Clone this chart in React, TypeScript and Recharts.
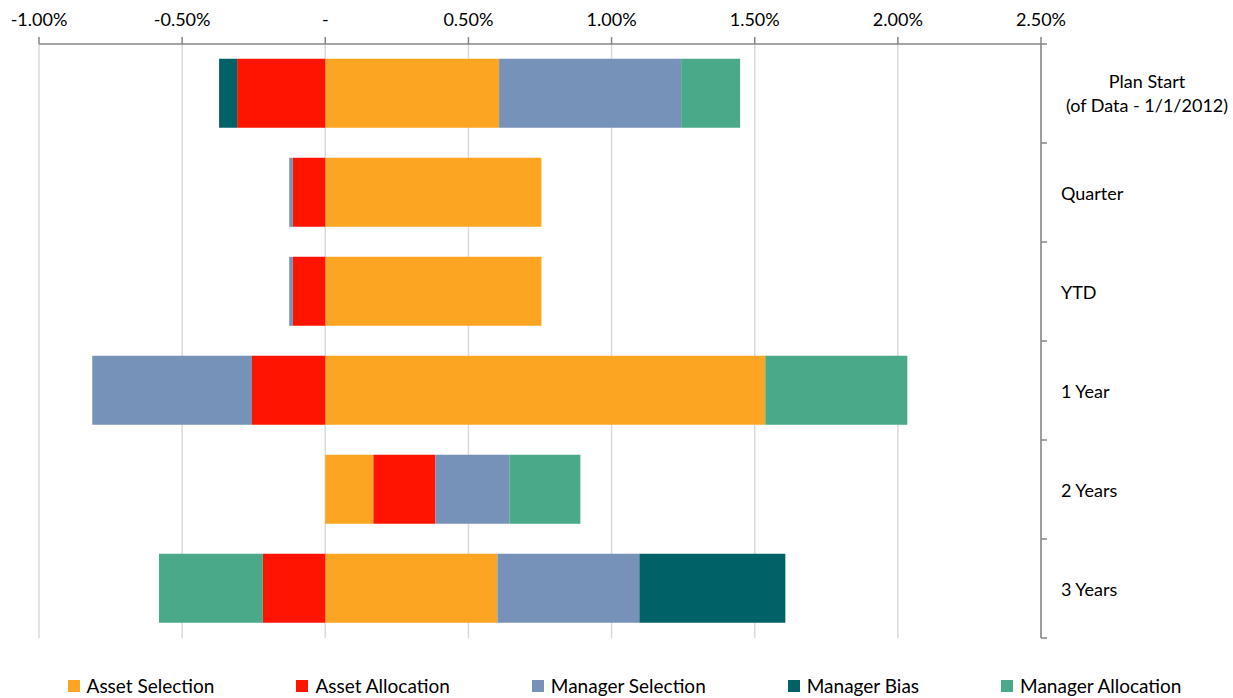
import React from "react";
import { BarChart, Bar, XAxis, YAxis, CartesianGrid } from "recharts";

const periods = ["Plan Start\n(of Data - 1/1/2012)", "Quarter", "YTD", "1 Year", "2 Years", "3 Years"];
const assetSelection = [0.607, 0.755, 0.755, 1.537, 0.168, 0.601];
const assetAllocation = [-0.308, -0.113, -0.113, -0.256, 0.217, -0.218];
const managerSelection = [0.636, -0.013, -0.013, -0.558, 0.258, 0.496];
const managerBias = [-0.063, 0, 0, 0, 0, 0.51];
const managerAllocation = [0.206, 0, 0, 0.496, 0.248, -0.363];
const xTicks = [-1, -0.5, 0, 0.5, 1, 1.5, 2, 2.5];

const series = [
  { key: "assetSelection", name: "Asset Selection", color: "#FCA522" },
  { key: "assetAllocation", name: "Asset Allocation", color: "#FF1400" },
  { key: "managerSelection", name: "Manager Selection", color: "#7792B9" },
  { key: "managerBias", name: "Manager Bias", color: "#006266" },
  { key: "managerAllocation", name: "Manager Allocation", color: "#49A989" },
];

const data = periods.map((p, i) => ({
  name: p,
  assetSelection: assetSelection[i],
  assetAllocation: assetAllocation[i],
  managerSelection: managerSelection[i],
  managerBias: managerBias[i],
  managerAllocation: managerAllocation[i],
}));

const FONT = "Lato, 'Liberation Sans', sans-serif";
const BAND = (638 - 44) / periods.length;

// category label on the right, with Excel-style ticks on the band boundaries
const CategoryTick = (props: any) => {
  const { y, payload, index } = props;
  const lines = String(payload.value).split("\n");
  const isLast = index === periods.length - 1;
  return (
    <g>
      <line x1={1041} x2={1047} y1={y - BAND / 2} y2={y - BAND / 2} stroke="#868686" strokeWidth={1.5} />
      {isLast && <line x1={1041} x2={1047} y1={y + BAND / 2} y2={y + BAND / 2} stroke="#868686" strokeWidth={1.5} />}
      {lines.length > 1 ? (
        lines.map((l, i) => (
          <text key={i} x={1147} y={y - 13 + i * 24} textAnchor="middle" dominantBaseline="central" fontSize={18} fill="#000" fontFamily={FONT}>
            {l}
          </text>
        ))
      ) : (
        <text x={1061} y={y} textAnchor="start" dominantBaseline="central" fontSize={18} fill="#000" fontFamily={FONT}>
          {lines[0]}
        </text>
      )}
    </g>
  );
};

export default function App() {
  return (
    <div style={{ position: "absolute", left: 0, top: 0, width: 1233, height: 698, background: "#fff" }}>
      <BarChart
        width={1233}
        height={698}
        data={data}
        layout="vertical"
        stackOffset="sign"
        barCategoryGap="15%"
        margin={{ top: 0, right: 0, bottom: 60, left: 39 }}
      >
        <CartesianGrid horizontal={false} stroke="#D9D9D9" strokeWidth={1.5} />
        <XAxis
          type="number"
          orientation="top"
          domain={[-1, 2.5]}
          ticks={xTicks}
          interval={0}
          tickFormatter={(v: number) => (v === 0 ? "-" : `${v.toFixed(2)}%`)}
          axisLine={{ stroke: "#868686", strokeWidth: 1.5 }}
          tickLine={{ stroke: "#868686", strokeWidth: 1.5 }}
          tickSize={7}
          tickMargin={11}
          tick={{ fontSize: 18, fill: "#000", fontFamily: FONT }}
          height={44}
        />
        <YAxis
          type="category"
          dataKey="name"
          orientation="right"
          axisLine={{ stroke: "#868686", strokeWidth: 1.5 }}
          tickLine={false}
          tick={<CategoryTick />}
          width={192}
          interval={0}
        />
        {series.map((s) => (
          <Bar key={s.key} dataKey={s.key} name={s.name} stackId="a" fill={s.color} isAnimationActive={false} />
        ))}
      </BarChart>
      <div
        style={{
          position: "absolute",
          left: 8,
          top: 675,
          width: 1233,
          display: "flex",
          justifyContent: "center",
          gap: 82,
          fontFamily: FONT,
          fontSize: 19,
          color: "#000",
          lineHeight: "22px",
        }}
      >
        {series.map((s) => (
          <span key={s.key} style={{ display: "inline-flex", alignItems: "center" }}>
            <span style={{ display: "inline-block", width: 12, height: 12, background: s.color, marginRight: 7 }} />
            {s.name}
          </span>
        ))}
      </div>
    </div>
  );
}
